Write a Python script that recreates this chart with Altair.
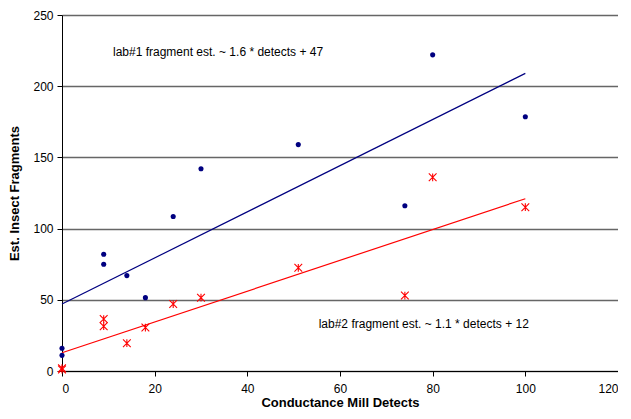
import altair as alt
import pandas as pd

# Lab #1 (blue dots)
lab1_x = [0, 0, 9, 9, 14, 18, 24, 30, 51, 74, 80, 100]
lab1_y = [16, 11, 82, 75, 67, 51.5, 108.5, 142, 159, 116, 222, 178.5]

# Lab #2 (red stars)
lab2_x = [0, 0, 9, 9, 14, 18, 24, 30, 51, 74, 80, 100]
lab2_y = [1, 2, 36.5, 31.5, 19.5, 30.5, 47, 51.5, 72.5, 53, 136, 115]

# Trend line end points
fit_x = [0, 100]
lab1_fit = [47, 209]
lab2_fit = [12.8, 121]

x_ticks = [0, 20, 40, 60, 80, 100, 120]
y_ticks = [0, 50, 100, 150, 200, 250]

label1 = "lab#1 fragment est. ~ 1.6 * detects + 47"
label2 = "lab#2 fragment est. ~ 1.1 * detects + 12"

df1 = pd.DataFrame({"x": lab1_x, "y": lab1_y})
df2 = pd.DataFrame({"x": lab2_x, "y": lab2_y})
fit1 = pd.DataFrame({"x": fit_x, "y": lab1_fit})
fit2 = pd.DataFrame({"x": fit_x, "y": lab2_fit})

FONT = "Liberation Sans"

xs = alt.Scale(domain=[0, 120], nice=False, zero=True)
ys = alt.Scale(domain=[0, 250], nice=False, zero=True)

xenc = alt.X("x:Q", scale=xs, axis=alt.Axis(
    values=x_ticks, title="Conductance Mill Detects", grid=False,
    domainColor="black", tickColor="black", tickSize=5, labelPadding=7,
    labelFontSize=12, labelFont=FONT, labelColor="black",
    titleFontSize=13, titleFont=FONT, titleFontWeight="bold",
    titleColor="black", titlePadding=2))
yenc = alt.Y("y:Q", scale=ys, axis=alt.Axis(
    values=y_ticks, title="Est. Insect Fragments", grid=True,
    gridColor="#666666", gridWidth=1.5,
    domainColor="black", tickColor="black", tickSize=5, labelPadding=4,
    labelFontSize=12, labelFont=FONT, labelColor="black",
    titleFontSize=13, titleFont=FONT, titleFontWeight="bold",
    titleColor="black", titlePadding=11))

star = "M-1,-1L1,1M-1,1L1,-1M0,-1L0,1"

pts1 = alt.Chart(df1).mark_circle(color="#000080", size=26, opacity=1).encode(x=xenc, y=yenc)
pts2 = alt.Chart(df2).mark_point(shape=star, color="#ff0000", size=60, strokeWidth=1.1, filled=False, opacity=1).encode(x="x:Q", y="y:Q")
line1 = alt.Chart(fit1).mark_line(color="#000080", strokeWidth=1.2).encode(x="x:Q", y="y:Q")
line2 = alt.Chart(fit2).mark_line(color="#ff0000", strokeWidth=1.2).encode(x="x:Q", y="y:Q")

t1 = alt.Chart(pd.DataFrame({"t": [label1]})).mark_text(
    align="left", baseline="middle", font=FONT, fontSize=12, color="black"
).encode(x=alt.datum(11), y=alt.datum(224), text="t:N")
t2 = alt.Chart(pd.DataFrame({"t": [label2]})).mark_text(
    align="left", baseline="middle", font=FONT, fontSize=12, color="black"
).encode(x=alt.datum(55.4), y=alt.datum(32.7), text="t:N")

chart = alt.layer(line1, line2, pts1, pts2, t1, t2).properties(
    width=556, height=356,
    autosize=alt.AutoSizeParams(type="none"),
    padding={"left": 54, "top": 7, "right": 0, "bottom": 40},
).configure_view(stroke="#8a8a8a", strokeWidth=1).configure(background="white")

chart.save("out.html", embed_options={"renderer": "svg", "actions": False})
